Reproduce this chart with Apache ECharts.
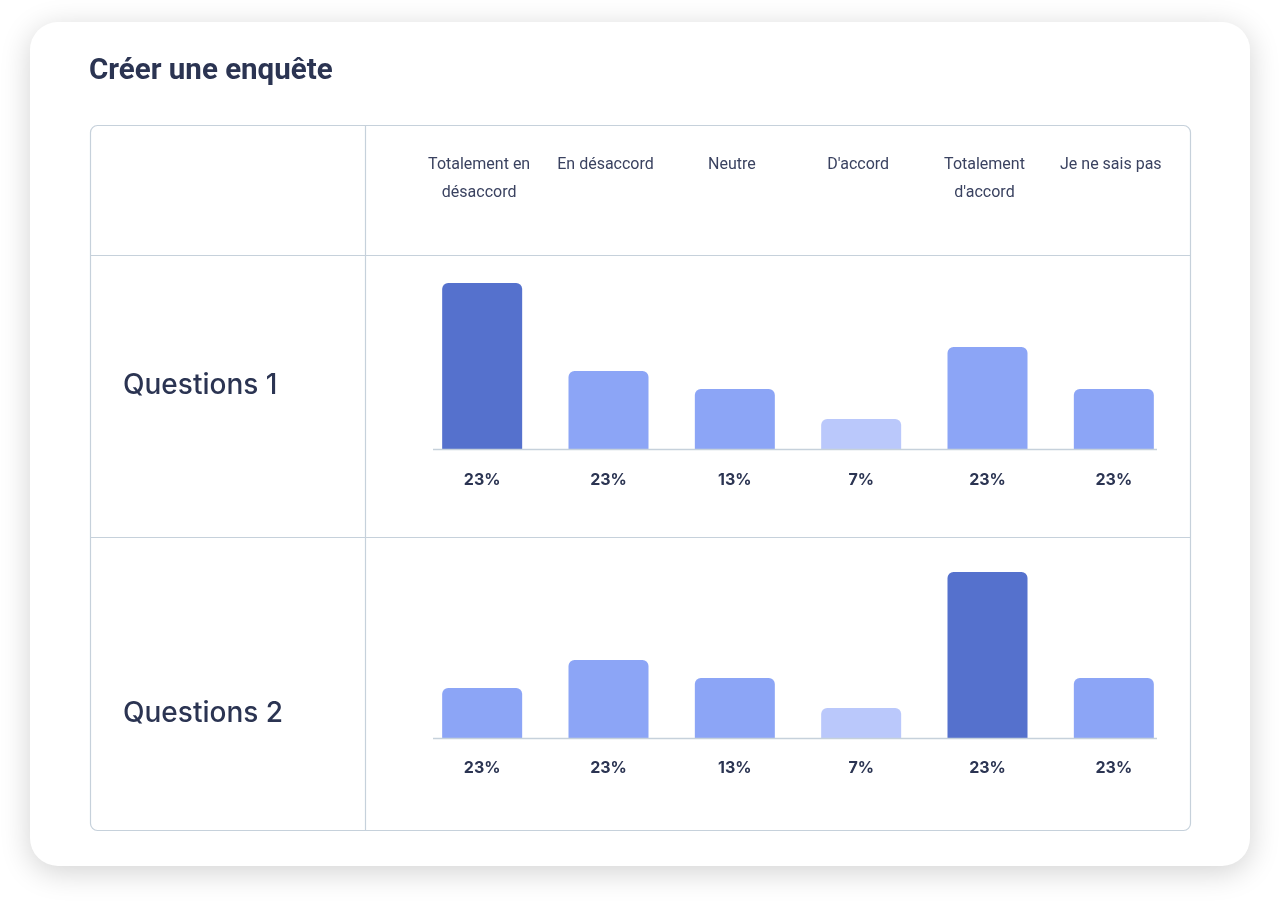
<!DOCTYPE html>
<html>
<head>
<meta charset="utf-8">
<script src="https://cdn.jsdelivr.net/npm/echarts@6/dist/echarts.min.js"></script>
<style>
html, body { margin: 0; padding: 0; background: #ffffff; }
#main { width: 1280px; height: 902px; }
</style>
</head>
<body>
<div id="main"></div>
<script>
var title = 'Créer une enquête';
var answers = ['Totalement en\ndésaccord', 'En désaccord', 'Neutre', "D'accord", 'Totalement\nd\'accord', 'Je ne sais pas'];
var questions = ['Questions 1', 'Questions 2'];
// bar heights
var q1Values = [83, 39, 30, 15, 51, 30];
var q2Values = [25, 39, 30, 15, 83, 30];
// percentages printed under the bars
var q1Labels = ['23%', '23%', '13%', '7%', '23%', '23%'];
var q2Labels = ['23%', '23%', '13%', '7%', '23%', '23%'];

var textColor = '#2b3452';
var lineColor = '#c6d1db';

var colorFor = function (vals, v) {
	var max = Math.max.apply(null, vals), min = Math.min.apply(null, vals);
	if (v === max) return '#5571cd';
	if (v === min) return '#bac8fb';
	return '#8ca5f6';
};

var barData = function (vals) {
	return vals.map(function (v) {
		return { value: v, itemStyle: { color: colorFor(vals, v) } };
	});
};

var chart = echarts.init(document.getElementById('main'));
var option = {
	animation: false,
	graphic: [
		{ type: 'rect', z: -10, shape: { x: 30, y: 22, width: 1220, height: 844, r: 28 },
		  style: { fill: '#fff', shadowBlur: 30, shadowColor: 'rgba(0,0,0,0.18)', shadowOffsetY: 6 } },
		{ type: 'rect', z: -9, shape: { x: 90.5, y: 125.5, width: 1100, height: 705, r: 7 },
		  style: { fill: 'none', stroke: lineColor, lineWidth: 1.2 } },
		{ type: 'line', z: -9, shape: { x1: 365.5, y1: 125.5, x2: 365.5, y2: 830.5 }, style: { stroke: lineColor, lineWidth: 1.2 } },
		{ type: 'line', z: -9, shape: { x1: 90.5, y1: 255.5, x2: 1190.5, y2: 255.5 }, style: { stroke: lineColor, lineWidth: 1.2 } },
		{ type: 'line', z: -9, shape: { x1: 90.5, y1: 537.5, x2: 1190.5, y2: 537.5 }, style: { stroke: lineColor, lineWidth: 1.2 } },
		{ type: 'line', z: 5, shape: { x1: 433, y1: 449.5, x2: 1157, y2: 449.5 }, style: { stroke: lineColor, lineWidth: 1.5 } },
		{ type: 'line', z: 5, shape: { x1: 433, y1: 738.5, x2: 1157, y2: 738.5 }, style: { stroke: lineColor, lineWidth: 1.5 } },
		{ type: 'text', left: 89, top: 57, style: { text: title, fill: textColor, font: 'bold 29.5px Roboto' } },
		{ type: 'text', left: 123, top: 372, style: { text: questions[0], fill: textColor, font: '500 28px Inter' } },
		{ type: 'text', left: 123, top: 700, style: { text: questions[1], fill: textColor, font: '500 28px Inter' } }
	],
	grid: [
		{ left: 419, width: 758, top: 283, height: 166 },
		{ left: 419, width: 758, top: 572, height: 166 }
	],
	xAxis: [
		{ type: 'category', gridIndex: 0, position: 'bottom', data: answers,
		  axisLine: { show: false }, axisTick: { show: false },
		  axisLabel: { margin: 23, color: textColor, fontFamily: 'Inter', fontWeight: 'bold', fontSize: 16,
		    formatter: function (v, i) { return q1Labels[i]; } } },
		{ type: 'category', gridIndex: 0, position: 'top', data: answers,
		  axisLine: { show: false }, axisTick: { show: false },
		  axisLabel: { margin: 132, verticalAlign: 'top', color: '#3a4260', fontFamily: 'Roboto', fontSize: 16,
		    lineHeight: 28, interval: 0, padding: [0, 6, 0, 0] } },
		{ type: 'category', gridIndex: 1, position: 'bottom', data: answers,
		  axisLine: { show: false }, axisTick: { show: false },
		  axisLabel: { margin: 22, color: textColor, fontFamily: 'Inter', fontWeight: 'bold', fontSize: 16,
		    formatter: function (v, i) { return q2Labels[i]; } } }
	],
	yAxis: [
		{ type: 'value', gridIndex: 0, min: 0, max: 83, show: false },
		{ type: 'value', gridIndex: 1, min: 0, max: 83, show: false }
	],
	series: [
		{ name: questions[0], type: 'bar', xAxisIndex: 0, yAxisIndex: 0, barWidth: 80,
		  itemStyle: { borderRadius: [6, 6, 0, 0] }, data: barData(q1Values) },
		{ name: questions[1], type: 'bar', xAxisIndex: 2, yAxisIndex: 1, barWidth: 80,
		  itemStyle: { borderRadius: [6, 6, 0, 0] }, data: barData(q2Values) }
	]
};
chart.setOption(option);
</script>
</body>
</html>
